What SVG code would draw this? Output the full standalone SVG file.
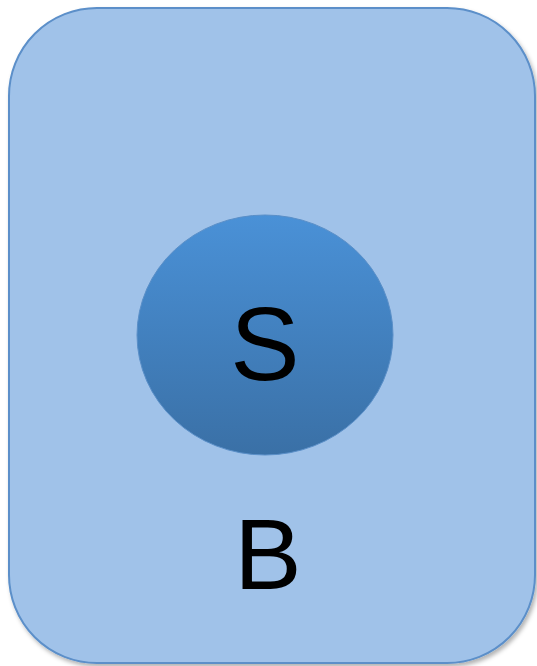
<svg xmlns="http://www.w3.org/2000/svg" width="537" height="666" viewBox="0 0 537 666">
<style>
.lbl{font-family:"Liberation Sans",Arial,sans-serif;fill:#000;text-anchor:middle}
</style>
<defs>
<linearGradient id="g" x1="0" y1="0" x2="0" y2="1">
<stop offset="0" stop-color="#4a91d7"/>
<stop offset="1" stop-color="#3a70a6"/>
</linearGradient>
<filter id="sh" x="-5%" y="-5%" width="110%" height="110%">
<feDropShadow dx="2" dy="3" stdDeviation="2" flood-color="#000" flood-opacity="0.3"/>
</filter>
</defs>
<g id="B">
<rect x="9" y="8" width="526" height="655" rx="88" ry="88" fill="#a0c2e9" stroke="#5b8fc9" stroke-width="2" filter="url(#sh)"/>
<text class="lbl" x="268" y="589" font-size="101">B</text>
</g>
<g id="S">
<ellipse cx="265" cy="335" rx="128" ry="120" fill="url(#g)" stroke="#5a8fc8" stroke-width="1"/>
<text class="lbl" x="265" y="380" font-size="104">S</text>
</g>
<g id="connectors"/>
</svg>
